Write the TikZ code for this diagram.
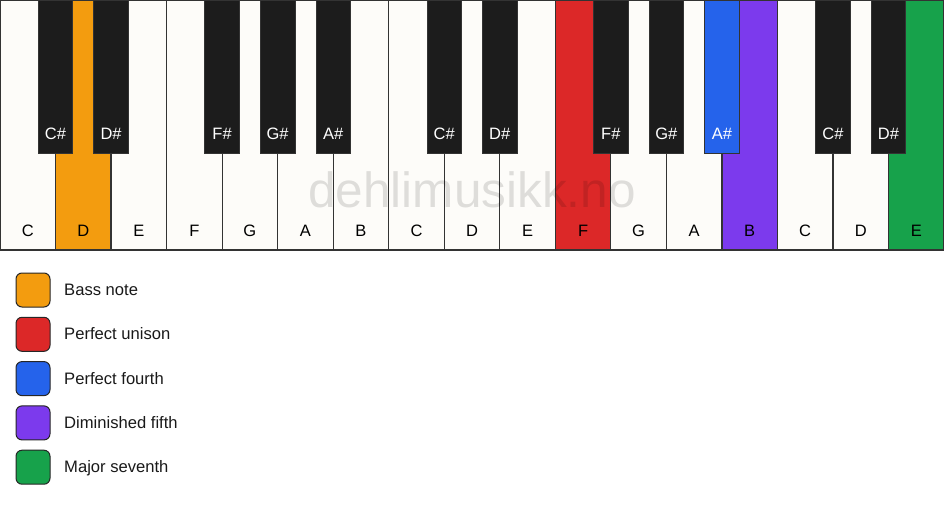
\documentclass[tikz,border=0pt]{standalone}
\usepackage{fontspec}
\setmainfont{Liberation Sans}
\definecolor{wkey}{HTML}{FDFCF9}
\definecolor{bkey}{HTML}{1C1C1C}
\definecolor{keyline}{HTML}{333333}
\definecolor{cOrange}{HTML}{F39C0F}
\definecolor{cRed}{HTML}{DC2828}
\definecolor{cBlue}{HTML}{2563EB}
\definecolor{cPurple}{HTML}{7C3AED}
\definecolor{cGreen}{HTML}{17A24B}
\tikzset{
  whitekey/.style={draw=keyline, line width=1.2pt, minimum width=55.53pt, minimum height=250pt, inner sep=0pt, outer sep=0pt},
  blackkey/.style={draw=keyline, line width=0.8pt, minimum width=34.5pt, minimum height=153pt, inner sep=0pt, outer sep=0pt},
  wlabel/.style={anchor=base, font=\fontsize{16.5}{19}\selectfont, text=black, inner sep=0pt},
  blabel/.style={anchor=base, font=\fontsize{16.5}{19}\selectfont, text=white, inner sep=0pt},
  swatch/.style={draw=black!85, line width=1pt, rounded corners=6pt, minimum width=34pt, minimum height=34pt, inner sep=0pt},
  legtext/.style={anchor=base west, font=\fontsize{16.6}{19}\selectfont, text=black!90, inner sep=0pt},
  watermark/.style={anchor=base, font=\fontsize{49.5}{50}\selectfont, text=black, text opacity=0.12, inner sep=0pt}
}
\begin{document}
\begin{tikzpicture}[x=1pt,y=-1pt]
\useasboundingbox (0,0) rectangle (944,506);
% white keys
\foreach \i/\n/\c in {0/C/wkey,1/D/cOrange,2/E/wkey,3/F/wkey,4/G/wkey,5/A/wkey,6/B/wkey,
                      7/C/wkey,8/D/wkey,9/E/wkey,10/F/cRed,11/G/wkey,12/A/wkey,13/B/cPurple,
                      14/C/wkey,15/D/wkey,16/E/cGreen}{
  \node[whitekey, fill=\c] (w\i) at ({(\i+0.5)*55.53},125) {};
  \node[wlabel] (lw\i) at ({(\i+0.5)*55.53},236) {\n};
}
% watermark
\node[watermark] (wm) at (472,207) {dehlimusikk.no};
% black keys
\foreach \b/\n/\c in {1/C\#/bkey,2/D\#/bkey,4/F\#/bkey,5/G\#/bkey,6/A\#/bkey,
                      8/C\#/bkey,9/D\#/bkey,11/F\#/bkey,12/G\#/bkey,13/A\#/cBlue,
                      15/C\#/bkey,16/D\#/bkey}{
  \node[blackkey, fill=\c] (b\b) at ({\b*55.53},76.5) {};
  \node[blabel] (lb\b) at ({\b*55.53},139) {\n};
}
% legend
\foreach \j/\c/\t in {0/cOrange/Bass note,1/cRed/Perfect unison,2/cBlue/Perfect fourth,3/cPurple/Diminished fifth,4/cGreen/Major seventh}{
  \node[swatch, fill=\c] (s\j) at (33,{290+44.3*\j}) {};
  \node[legtext] (t\j) at (64,{295.5+44.3*\j}) {\t};
}
\end{tikzpicture}
\end{document}
